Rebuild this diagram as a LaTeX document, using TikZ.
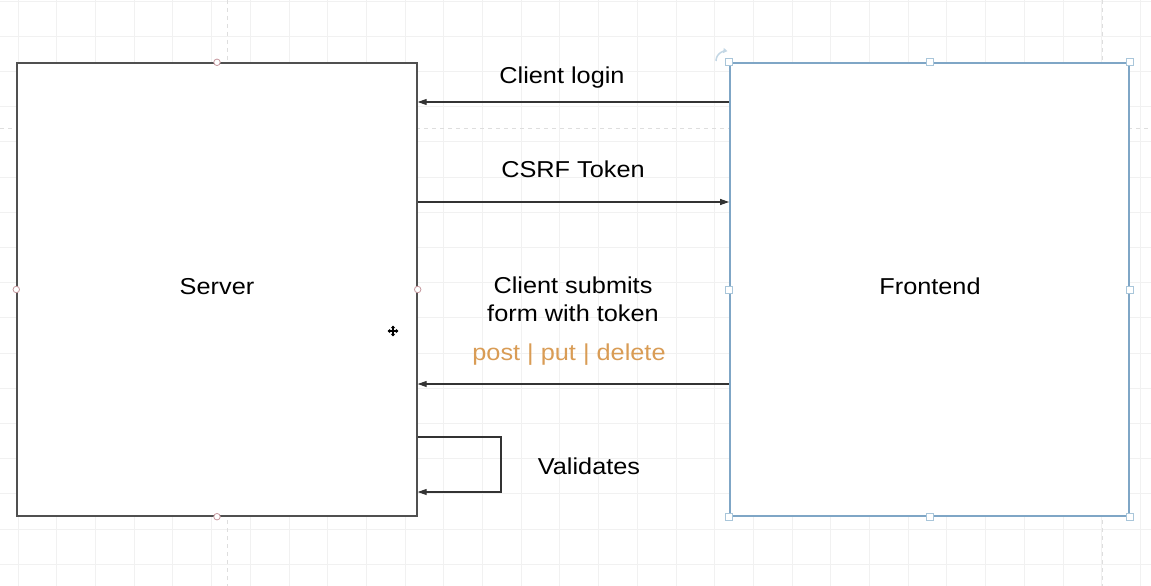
\documentclass[tikz,border=0pt]{standalone}
\usepackage{fontspec}
\setmainfont{Liberation Sans}[FakeStretch=1.1]
\usetikzlibrary{arrows.meta}
\definecolor{gridc}{HTML}{F1F1F1}
\definecolor{guidec}{HTML}{DEDEDE}
\definecolor{boxc}{HTML}{505050}
\definecolor{edgec}{HTML}{333333}
\definecolor{selc}{HTML}{7FA6C6}
\definecolor{handlec}{HTML}{A9C6DA}
\definecolor{pinc}{HTML}{C79AA0}
\definecolor{methodc}{HTML}{D99C55}
\begin{document}
\begin{tikzpicture}[x=1pt,y=-1pt,
  every node/.style={font=\fontsize{23}{27.5}\selectfont, inner sep=0pt},
  gridline/.style={draw=gridc, line width=0.8pt},
  guide/.style={draw=guidec, line width=0.9pt, dash pattern=on 4pt off 4pt},
  serverbox/.style={draw=boxc, fill=white, line width=1.4pt, minimum width=400pt, minimum height=453pt},
  frontbox/.style={draw=selc, fill=white, line width=1.8pt, minimum width=399pt, minimum height=453pt},
  arr/.style={draw=edgec, line width=1.1pt, -{Triangle[length=9pt,width=6pt]}},
  handle/.style={draw=handlec, fill=white, line width=0.9pt, minimum size=7pt, inner sep=0pt},
  pin/.style={circle, draw=pinc, fill=white, line width=0.8pt, minimum size=6.5pt, inner sep=0pt},
  lbl/.style={text=black, align=center},
  method/.style={text=methodc}]

% canvas
\fill[white] (0,0) rectangle (1151,586);
\useasboundingbox (0,0) rectangle (1151,586);

% background grid
\foreach \gx in {0,...,29} \draw[gridline] (18+38.7*\gx,0) -- (18+38.7*\gx,586);
\foreach \gy in {0,...,16} \draw[gridline] (0,1+35.2*\gy) -- (1151,1+35.2*\gy);

% alignment guides
\draw[guide] (0,128) -- (1151,128);
\draw[guide] (227,0) -- (227,586);
\draw[guide] (1102,0) -- (1102,586);

% faint canvas widget in the corner
\draw[guidec, line width=0.9pt] (1108,586) arc[start angle=180, end angle=60, radius=23];

% main boxes
\node[serverbox] (sv) at (217,289.5) {};
\node[frontbox] (fe) at (929.5,289.5) {};
\node[lbl] (svt) at (217,287) {Server};
\node[lbl] (fet) at (930,286) {Frontend};

% row coordinates
\coordinate (r1) at (0,102);
\coordinate (r2) at (0,202);
\coordinate (r3) at (0,384);
\coordinate (r4) at (0,437);
\coordinate (r5) at (0,492);
\coordinate (loopx) at (501,0);

% connectors
\draw[arr] (fe.west |- r1) -- (sv.east |- r1);
\draw[arr] (sv.east |- r2) -- (fe.west |- r2);
\draw[arr] (fe.west |- r3) -- (sv.east |- r3);
\draw[arr] (sv.east |- r4) -- (loopx |- r4) -- (loopx |- r5) -- (sv.east |- r5);

% connector labels
\node[lbl] (l1) at (562,78) {Client login};
\node[lbl] (l2) at (573,169) {CSRF Token};
\node[lbl] (l3) at (573,299.5) {Client submits\\form with token};
\node[method] (l4) at (569,355) {post | put | delete};
\node[lbl] (l5) at (589,466) {Validates};

% connection points on the server box
\node[pin] (p1) at (sv.north) {};
\node[pin] (p2) at (sv.south) {};
\node[pin] (p3) at (sv.west) {};
\node[pin] (p4) at (sv.east) {};

% selection handles on the frontend box
\foreach \a in {north west,north,north east,east,south east,south,south west,west}
  \node[handle] at (fe.\a) {};

% rotate handle
\draw[draw=handlec!70, line width=1.5pt, -{Triangle[length=4pt,width=5pt]}] (716,61) arc[start angle=180, end angle=278, radius=10];

% move cursor
\coordinate (mv) at (393,331);
\foreach \d in {(5.5,0),(-5.5,0),(0,5.5),(0,-5.5)}
  \draw[black, line width=1.3pt, -{Triangle[length=2.6pt,width=4.2pt]}] (mv) -- ++\d;
\end{tikzpicture}
\end{document}
